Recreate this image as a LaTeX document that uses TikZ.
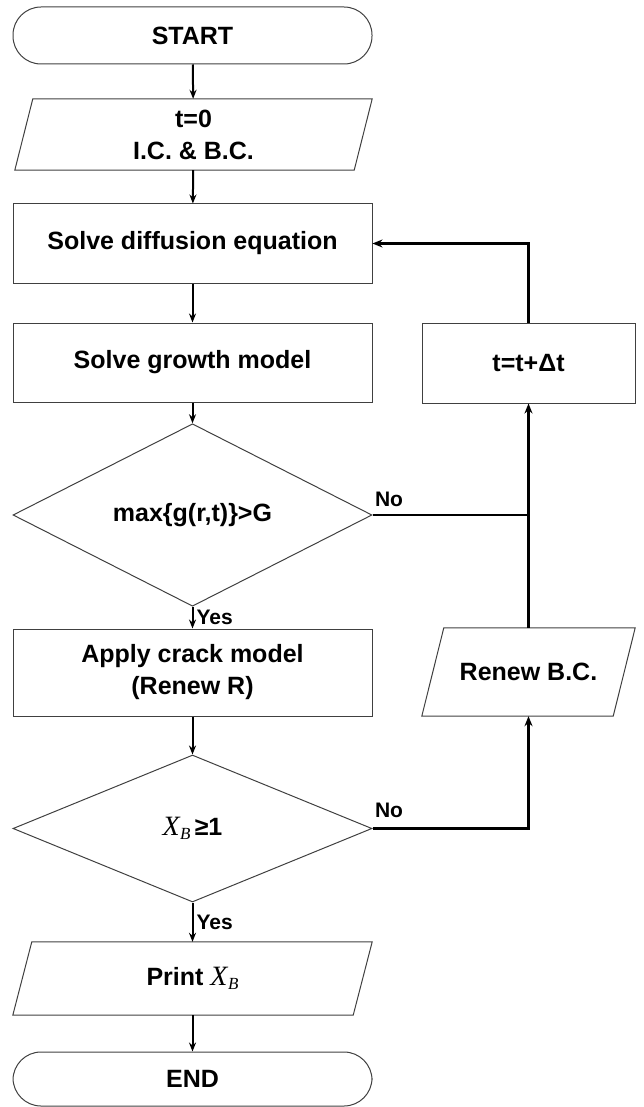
\documentclass[tikz,border=0pt]{standalone}
\usepackage{fontspec}
\setmainfont{Liberation Sans}
\newfontfamily\serifit{Liberation Serif}
\usetikzlibrary{shapes.geometric,arrows.meta,calc}
\definecolor{outl}{HTML}{404040}
\newcommand{\myXB}{{\serifit\mdseries\itshape\fontsize{28}{28}\selectfont X}\kern0.5pt\raisebox{-0.35ex}{\serifit\mdseries\itshape\fontsize{17}{17}\selectfont B}}
\newcommand{\paraframe}[2]{\draw[draw=outl, line width=1pt] (#1.south west) -- ($(#1.north west)+(#2,0)$) -- (#1.north east) -- ($(#1.south east)+(-#2,0)$) -- cycle;}
\begin{document}
\begin{tikzpicture}[x=1pt,y=-1pt,
  every node/.style={font=\fontsize{25}{32}\selectfont\bfseries, align=center},
  box/.style={draw=outl, line width=1pt, minimum width=359pt, inner sep=0pt},
  term/.style={box, rounded corners=28pt},
  para/.style={inner sep=0pt},
  dec/.style={draw=outl, line width=1pt, diamond, inner sep=0pt, minimum width=359pt},
  flow/.style={line width=2pt, -{Stealth[length=9pt,width=7pt]}},
  loopline/.style={line width=2.8pt},
  looparrow/.style={line width=2.8pt, -{Stealth[length=10pt,width=8pt]}},
  lbl/.style={font=\fontsize{21}{21}\selectfont\bfseries}
]
\useasboundingbox (0,0) rectangle (643,1107);

\node[term, minimum height=57pt] (start) at (192.5,35.5) {START};
\node[para, minimum width=357pt, minimum height=71pt] (ic) at (193.5,134.5) {t=0\\I.C. \& B.C.};
\paraframe{ic}{18}
\node[box, minimum height=79pt] (diff) at (192.5,243.5) {Solve diffusion equation};
\node[box, minimum height=79pt] (grow) at (192.5,362.5) {Solve growth model};
\node[dec, minimum height=146pt] (d1) at (192.5,515) {max\{g(r,t)\}>G};
\node[box, minimum height=87pt] (crack) at (192.5,672.5) {Apply crack model\\(Renew R)};
\node[dec, minimum height=147pt] (d2) at (192.5,828.5) {\myXB\,≥1};
\node[para, minimum width=359pt, minimum height=73pt] (print) at (192.5,978.5) {Print \myXB};
\paraframe{print}{19}
\node[term, minimum height=54pt] (end) at (192.5,1079) {END};

\node[box, minimum width=213pt, minimum height=80pt] (tt) at (528.5,363) {t=t+Δt};
\node[para, minimum width=213pt, minimum height=88pt] (rbc) at (528.5,672) {Renew B.C.};
\paraframe{rbc}{22}

\draw[flow] (start) -- (ic);
\draw[flow] (ic) -- (diff);
\draw[flow] (diff) -- (grow);
\draw[flow] (grow) -- (d1);
\draw[flow] (d1) -- node[lbl, right, inner sep=3pt] (y1) {Yes} (crack);
\draw[flow] (crack) -- (d2);
\draw[flow] (d2) -- node[lbl, right, inner sep=3pt] (y2) {Yes} (print);
\draw[flow] (print) -- (end);

\draw[loopline] (d1.east) -- (d1.east -| rbc.north);
\draw[looparrow] (rbc.north) -- (tt.south);
\draw[looparrow] (d2.east) -| (rbc.south);
\draw[looparrow] (tt.north) |- (diff.east);

\node[lbl] (n1) at (389,499) {No};
\node[lbl] (n2) at (389,810) {No};
\end{tikzpicture}
\end{document}
